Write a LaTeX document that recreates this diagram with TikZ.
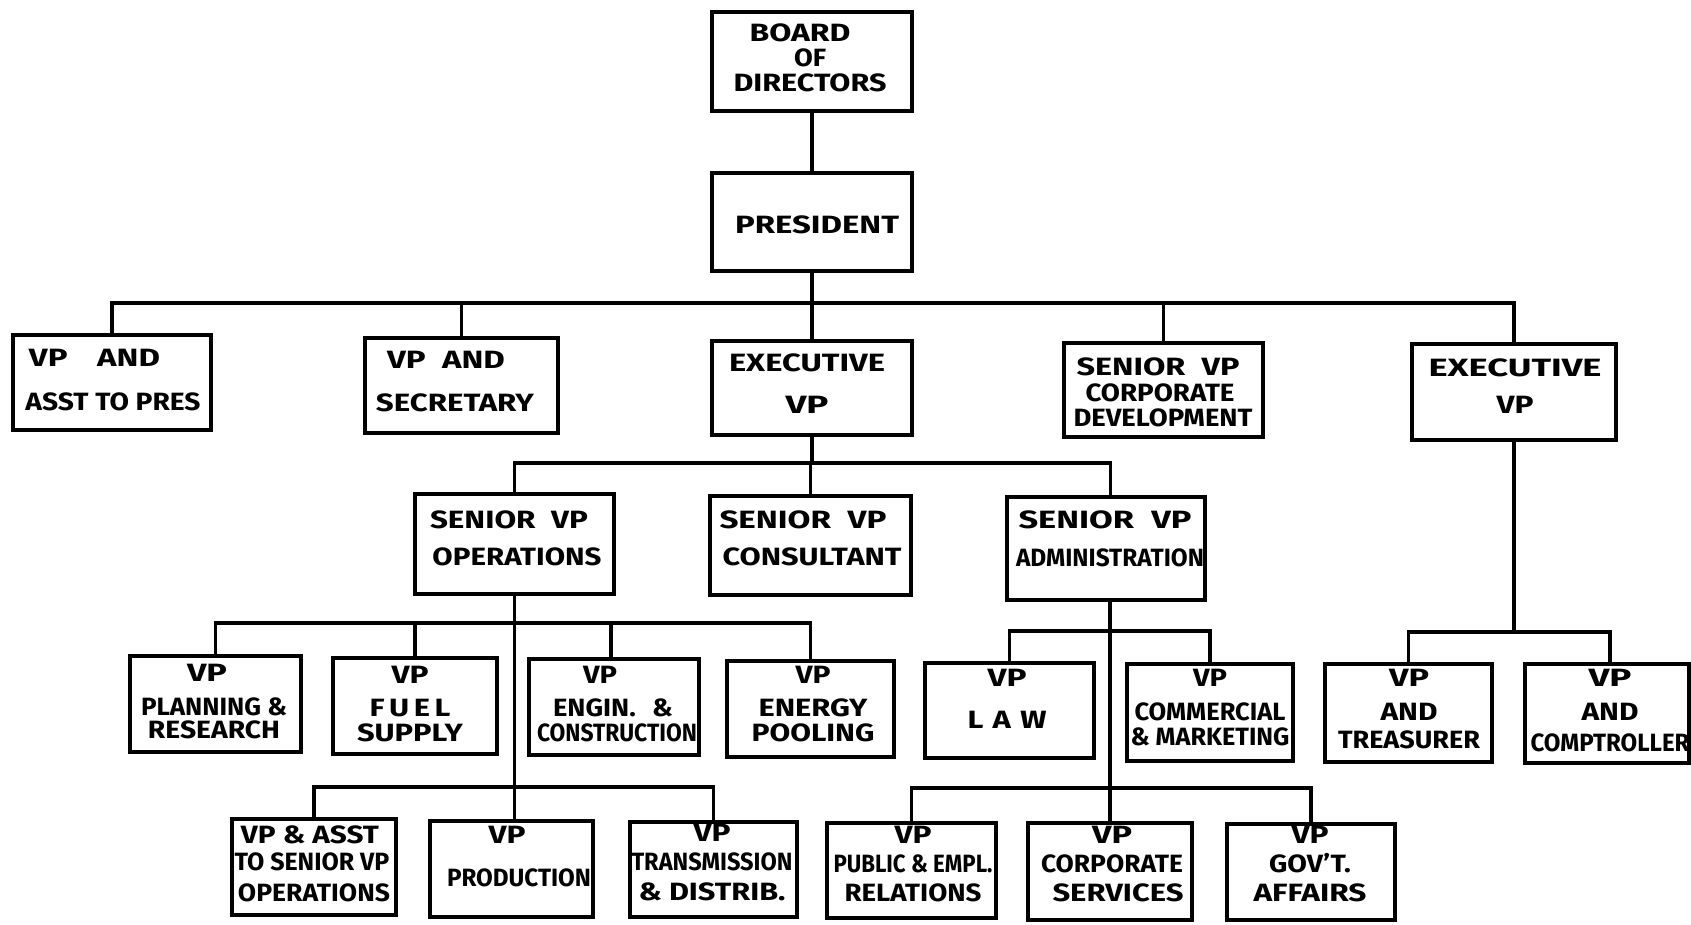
\documentclass[tikz,border=0pt]{standalone}
\usepackage{graphicx}
\usepackage{fontspec}
\setmainfont{Fira Sans}
\usetikzlibrary{fit}

% one line of lettering squeezed or stretched to a given width
\newcommand\fw[2]{\resizebox{#1pt}{\height}{#2}}
% a position box spanning two corner points
\newcommand\obox[5]{\node[orgbox, fit={(#2,#3) (#4,#5)}] (#1) {};}

\tikzset{
  orgbox/.style={draw=black, line width=4pt, inner sep=0pt, line join=miter},
  orgtext/.style={align=center, inner sep=0pt, text=black,
                  font=\fontsize{25}{#1}\selectfont\bfseries},
  orgtext/.default=30,
  link/.style={draw=black, line width=3.3pt, line join=miter}
}

\begin{document}
\begin{tikzpicture}[x=1pt, y=-1pt]
\fill[white] (0,0) rectangle (1691,924);
\useasboundingbox (0,0) rectangle (1691,924);

% ---------- boxes ----------
\obox{board}{712}{12}{912}{111}
\obox{pres}{712}{173}{912}{271}

\obox{asst}{13}{335}{211}{430}
\obox{sec}{365}{338}{558}{433}
\obox{exl}{712}{341}{912}{435}
\obox{cdev}{1064}{343}{1263}{437}
\obox{exr}{1412}{344}{1616}{440}

\obox{ops}{415}{494}{614}{594}
\obox{cons}{710}{496}{911}{595}
\obox{adm}{1007}{497}{1205}{600}

\obox{plan}{130}{656}{301}{752}
\obox{fuel}{333}{658}{497}{754}
\obox{eng}{529}{659}{699}{755}
\obox{pool}{727}{661}{894}{757}
\obox{law}{925}{663}{1094}{758}
\obox{com}{1127}{664}{1293}{761}
\obox{tre}{1325}{664}{1492}{762}
\obox{cmp}{1525}{664}{1689}{763}

\obox{asop}{232}{819}{396}{915}
\obox{prod}{430}{821}{593}{917}
\obox{trans}{630}{822}{797}{917}
\obox{pub}{827}{823}{996}{918}
\obox{csv}{1028}{823}{1192}{920}
\obox{gov}{1227}{824}{1395}{920}

% ---------- lettering ----------
\node[orgtext=25] (board-t) at (810,58)
  {\fw{101}{BOARD}\hspace*{20pt}\\ \fw{32}{OF}\\ \fw{153}{DIRECTORS}};
\node[orgtext] (pres-t) at (817,225) {\fw{164}{PRESIDENT}};

\node[orgtext=44] (asst-t) at (113,380)
  {\fw{131}{VP\hspace{0.9em}AND}\hspace*{37pt}\\ \fw{175}{ASST TO PRES}};
\node[orgtext=43] (sec-t) at (455,381.5)
  {\fw{118}{VP\hspace{0.5em}AND}\hspace*{18pt}\\ \fw{158}{SECRETARY}};
\node[orgtext=42] (exl-t) at (807,384)
  {\fw{156}{EXECUTIVE}\\ \fw{43}{VP}};
\node[orgtext=25.5] (cdev-t) at (1160,392.5)
  {\fw{163}{SENIOR\hspace{0.5em}VP}\hspace*{4pt}\\ \fw{149}{CORPORATE}\hspace*{4pt}\\ \hspace*{6pt}\fw{179}{DEVELOPMENT}};
\node[orgtext=37] (exr-t) at (1515,386.5)
  {\fw{173}{EXECUTIVE}\\ \fw{37}{VP}};

\node[orgtext=37] (ops-t) at (513,538.5)
  {\fw{158}{SENIOR\hspace{0.5em}VP}\hspace*{8pt}\\ \hspace*{8pt}\fw{169}{OPERATIONS}};
\node[orgtext=37] (cons-t) at (808,538.5)
  {\fw{167}{SENIOR\hspace{0.5em}VP}\hspace*{10pt}\\ \hspace*{8pt}\fw{179}{CONSULTANT}};
\node[orgtext=38] (adm-t) at (1108,539)
  {\fw{173}{SENIOR\hspace{0.5em}VP}\hspace*{6pt}\\ \hspace*{4pt}\fw{188}{ADMINISTRATION}};

\node[orgtext=23] (plan-t) at (214,701.5)
  {\fw{40}{VP}\hspace*{14pt}\\[11pt] \fw{146}{PLANNING \&}\\ \fw{132}{RESEARCH}};
\node[orgtext=25] (fuel-t) at (410,704)
  {\fw{37}{VP}\\[8pt] \fw{81}{F\hspace{0.15em}U\hspace{0.15em}E\hspace{0.15em}L}\\ \fw{106}{SUPPLY}};
\node[orgtext=25] (eng-t) at (613,704)
  {\fw{34}{VP}\hspace*{26pt}\\[8pt] \fw{120}{ENGIN.\hspace{0.6em}\&}\hspace*{32pt}\\ \hspace*{8pt}\fw{160}{CONSTRUCTION}};
\node[orgtext=25] (pool-t) at (813,704)
  {\fw{35}{VP}\\[8pt] \fw{109}{ENERGY}\\ \fw{123}{POOLING}};
\node[orgtext=42] (law-t) at (1007,699)
  {\fw{39}{VP}\\ \fw{79}{L\hspace{0.3em}A\hspace{0.3em}W}};
\node[orgtext=25] (com-t) at (1210,707.5)
  {\fw{34}{VP}\\[9pt] \fw{151}{COMMERCIAL}\\ \fw{159}{\& MARKETING}};
\node[orgtext=28] (tre-t) at (1409,709)
  {\fw{40}{VP}\\[6pt] \fw{57}{AND}\\ \fw{142}{TREASURER}};
\node[orgtext=31] (cmp-t) at (1610,710.5)
  {\fw{43}{VP}\\[3pt] \fw{57}{AND}\\ \fw{159}{COMPTROLLER}};

\node[orgtext=27] (asop-t) at (312,864)
  {\fw{138}{VP \& ASST}\hspace*{4pt}\\ \fw{155}{TO SENIOR VP}\\[4pt] \hspace*{4pt}\fw{152}{OPERATIONS}};
\node[orgtext=43] (prod-t) at (512,856.5)
  {\fw{37}{VP}\hspace*{10pt}\\ \hspace*{14pt}\fw{144}{PRODUCTION}};
\node[orgtext=29.5] (trans-t) at (712,862.5)
  {\fw{37}{VP}\\ \fw{161}{TRANSMISSION}\\ \fw{147}{\& DISTRIB.}};
\node[orgtext=29] (pub-t) at (913,864)
  {\fw{37}{VP}\\ \fw{159}{PUBLIC \& EMPL.}\\ \fw{137}{RELATIONS}};
\node[orgtext=29] (csv-t) at (1112,864)
  {\fw{40}{VP}\\ \fw{142}{CORPORATE}\\ \hspace*{12pt}\fw{131}{SERVICES}};
\node[orgtext=29] (gov-t) at (1310,864)
  {\fw{37}{VP}\\ \fw{82}{GOV'T.}\\ \fw{113}{AFFAIRS}};

% ---------- reporting lines ----------
\coordinate (busP)  at (0,303);
\coordinate (busE)  at (0,463);
\coordinate (busO1) at (0,623);
\coordinate (busO2) at (0,787);
\coordinate (busA1) at (0,631);
\coordinate (busA2) at (0,788);
\coordinate (busX)  at (0,632);

\draw[link] (board) -- (pres);

\draw[link] (pres.south) -- (pres.south |- busP);
\draw[link] (asst.north) -- (asst.north |- busP) -- (exr.north |- busP) -- (exr.north);
\draw[link] (sec.north) -- (sec.north |- busP);
\draw[link] (exl.north) -- (exl.north |- busP);
\draw[link] (cdev.north) -- (cdev.north |- busP);

\draw[link] (exl.south) -- (exl.south |- busE);
\draw[link] (ops.north) -- (ops.north |- busE) -- ([xshift=4.5pt]adm.north |- busE) -- ([xshift=4.5pt]adm.north);
\draw[link] (cons.north) -- (cons.north |- busE);

\draw[link] (ops.south) -- (ops.south |- prod.north);
\draw[link] (plan.north) -- (plan.north |- busO1) -- (pool.north |- busO1) -- (pool.north);
\draw[link] (fuel.north) -- (fuel.north |- busO1);
\draw[link] ([xshift=-3pt]eng.north) -- ([xshift=-3pt]eng.north |- busO1);
\draw[link] (asop.north) -- (asop.north |- busO2) -- (trans.north |- busO2) -- (trans.north);

\draw[link] (csv.north |- adm.south) -- (csv.north);
\draw[link] (law.north) -- (law.north |- busA1) -- (com.north |- busA1) -- (com.north);
\draw[link] (pub.north) -- (pub.north |- busA2) -- (gov.north |- busA2) -- (gov.north);

\draw[link] (exr.south) -- (exr.south |- busX);
\draw[link] (tre.north) -- (tre.north |- busX) -- ([xshift=3pt]cmp.north |- busX) -- ([xshift=3pt]cmp.north);
\end{tikzpicture}
\end{document}
